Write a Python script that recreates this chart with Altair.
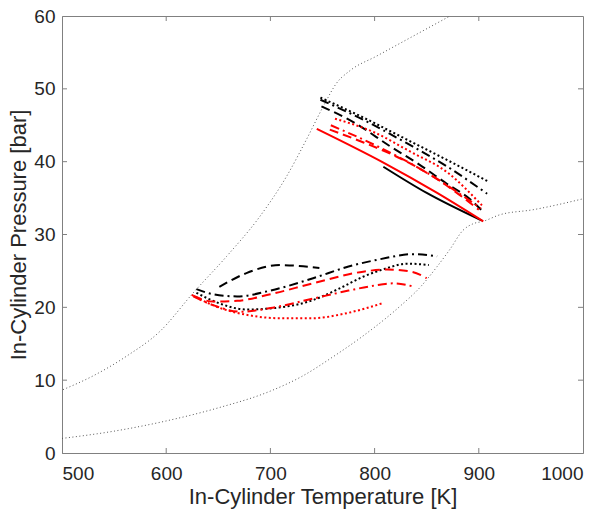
import altair as alt
import pandas as pd

# ---- data ----
x_ticks = [500, 600, 700, 800, 900, 1000]
y_ticks = [0, 10, 20, 30, 40, 50, 60]

# grey dotted envelope curves
g_upper_T = [501, 530, 562, 594, 626, 658, 690, 715.6, 734.8, 750.8, 763.6, 776.4, 802, 834, 872.4]
g_upper_P = [8.7, 10.6, 13.3, 16.7, 22.0, 27.0, 32.5, 38.0, 43.1, 47.6, 50.8, 52.5, 54.5, 57.0, 60.0]
g_lower_T = [500, 550, 600, 650, 700, 730, 760, 792, 824, 844, 860, 872, 885, 895, 904, 920, 952, 1000]
g_lower_P = [2.0, 3.0, 4.4, 6.2, 8.5, 10.5, 13.2, 16.4, 20.1, 22.8, 25.6, 27.9, 30.6, 31.5, 31.8, 32.7, 33.4, 34.9]

# upper cluster
ub_dot_T = [748, 790, 830, 870, 910]
ub_dot_P = [48.8, 46.0, 43.1, 40.2, 37.2]
ub_dashdot_T = [748, 790, 830, 870, 908]
ub_dashdot_P = [48.5, 45.7, 42.6, 39.3, 35.6]
ub_dash_T = [749, 780, 815, 844, 869, 892, 905]
ub_dash_P = [47.6, 45.4, 42.1, 39.5, 37.0, 34.8, 33.0]
ub_solid_T = [808.4, 850, 903]
ub_solid_P = [39.3, 35.7, 31.9]
ur_dot_T = [762, 800, 834, 870, 903]
ur_dot_P = [45.9, 44.0, 41.4, 38.5, 34.0]
ur_dashdot_T = [758, 800, 850, 902]
ur_dashdot_P = [45.0, 42.3, 38.5, 33.6]
ur_dash_T = [757, 790, 818, 860, 900]
ur_dash_P = [44.4, 42.6, 40.9, 37.6, 33.4]
ur_solid_T = [744.5, 808, 860, 904.3]
ur_solid_P = [44.5, 39.9, 35.7, 31.8]

# lower cluster
lb_dash_T = [651, 677, 709, 747]
lb_dash_P = [22.8, 24.7, 25.8, 25.4]
lb_dashdot_T = [629, 645, 668, 700, 741, 775, 805, 837, 860]
lb_dashdot_P = [22.5, 21.8, 21.5, 22.3, 24.0, 25.6, 26.6, 27.3, 27.0]
lb_dot_T = [629, 650, 677, 710, 741, 765, 789, 810, 831, 852]
lb_dot_P = [22.0, 20.6, 19.7, 20.0, 21.0, 22.5, 24.2, 25.3, 26.0, 25.8]
lr_dash_T = [626, 645, 668, 700, 741, 789, 812, 835, 850]
lr_dash_P = [21.6, 20.8, 20.9, 21.8, 23.3, 24.9, 25.2, 24.9, 24.0]
lr_dashdot_T = [626, 645, 671, 700, 741, 775, 805, 818, 836]
lr_dashdot_P = [21.5, 20.3, 19.4, 19.9, 21.2, 22.3, 23.1, 23.3, 22.9]
lr_dot_T = [624.5, 650, 680, 709, 740, 770, 790, 808.4]
lr_dot_P = [21.7, 20.0, 18.9, 18.5, 18.5, 19.1, 19.8, 20.6]

W, H = 521, 437
xscale = alt.Scale(domain=[500, 1000], nice=False, zero=False)
yscale = alt.Scale(domain=[0, 60], nice=False, zero=True)

DOT = [2, 2.5]
DASH = [9, 5]
DASHDOT = [9, 4, 2, 4]


def line(T, P, color, dash=None, width=2.0, first=False):
    df = pd.DataFrame({"T": T, "P": P, "i": list(range(len(T)))})
    kw = dict(color=color, strokeWidth=width, interpolate="monotone", clip=True,
              strokeCap="butt")
    if dash is not None:
        kw["strokeDash"] = dash
    if first:
        xenc = alt.X("T:Q", scale=xscale, title="In-Cylinder Temperature [K]",
                     axis=alt.Axis(values=x_ticks, format="d", tickSize=0, labelPadding=11,
                                   titlePadding=3, grid=False))
        yenc = alt.Y("P:Q", scale=yscale, title="In-Cylinder Pressure [bar]",
                     axis=alt.Axis(values=y_ticks, format="d", tickSize=0, labelPadding=7,
                                   titlePadding=3, grid=False))
    else:
        xenc = alt.X("T:Q", scale=xscale)
        yenc = alt.Y("P:Q", scale=yscale)
    return alt.Chart(df).mark_line(**kw).encode(x=xenc, y=yenc, order="i:Q")


GREY = "#555555"
layers = [
    line(g_upper_T, g_upper_P, GREY, [1, 2.5], 1.0, first=True),
    line(g_lower_T, g_lower_P, GREY, [1, 2.5], 1.0),
    line(ub_dot_T, ub_dot_P, "black", DOT),
    line(ub_dashdot_T, ub_dashdot_P, "black", DASHDOT),
    line(ub_dash_T, ub_dash_P, "black", DASH),
    line(ub_solid_T, ub_solid_P, "black"),
    line(ur_dot_T, ur_dot_P, "red", DOT),
    line(ur_dashdot_T, ur_dashdot_P, "red", DASHDOT),
    line(ur_dash_T, ur_dash_P, "red", DASH),
    line(ur_solid_T, ur_solid_P, "red"),
    line(lb_dash_T, lb_dash_P, "black", DASH),
    line(lb_dashdot_T, lb_dashdot_P, "black", DASHDOT),
    line(lb_dot_T, lb_dot_P, "black", DOT),
    line(lr_dash_T, lr_dash_P, "red", DASH),
    line(lr_dashdot_T, lr_dashdot_P, "red", DASHDOT),
    line(lr_dot_T, lr_dot_P, "red", DOT),
]

# inward (MATLAB-style) ticks on all four sides
TICKC = "#808080"
xt = pd.DataFrame({"T": x_ticks[1:-1]})
yt = pd.DataFrame({"P": y_ticks[1:-1]})
tick_layers = [
    alt.Chart(xt).mark_rule(color=TICKC, strokeWidth=1).encode(
        x=alt.X("T:Q", scale=xscale), y=alt.value(H), y2=alt.value(H - 5)),
    alt.Chart(xt).mark_rule(color=TICKC, strokeWidth=1).encode(
        x=alt.X("T:Q", scale=xscale), y=alt.value(0), y2=alt.value(5)),
    alt.Chart(yt).mark_rule(color=TICKC, strokeWidth=1).encode(
        y=alt.Y("P:Q", scale=yscale), x=alt.value(0), x2=alt.value(5)),
    alt.Chart(yt).mark_rule(color=TICKC, strokeWidth=1).encode(
        y=alt.Y("P:Q", scale=yscale), x=alt.value(W), x2=alt.value(W - 5)),
]

chart = alt.layer(*layers, *tick_layers).properties(
    width=W, height=H,
    background="white",
    autosize=alt.AutoSizeParams(type="none"),
    padding={"left": 62, "top": 16, "right": 23, "bottom": 59},
).configure_view(
    stroke=TICKC, strokeWidth=1
).configure_axis(
    labelFont="Liberation Sans", titleFont="Liberation Sans",
    labelFontSize=19, titleFontSize=22, titleFontWeight="normal",
    labelColor="#262626", titleColor="#262626",
    domainColor=TICKC, domainWidth=1,
)

chart.save("out.html", embed_options={"renderer": "svg", "actions": False})
